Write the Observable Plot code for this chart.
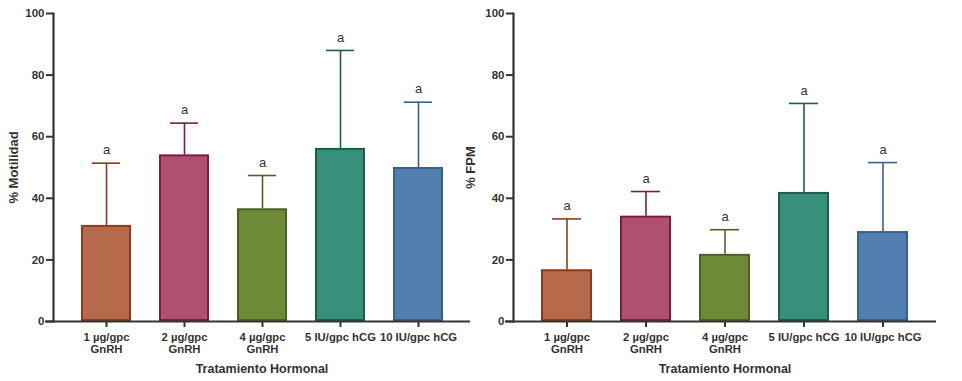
<!DOCTYPE html>
<html>
<head>
<meta charset="utf-8">
<script src="https://cdn.jsdelivr.net/npm/d3@7"></script>
<script src="https://cdn.jsdelivr.net/npm/@observablehq/plot@0.6"></script>
<style>
  html, body { margin: 0; padding: 0; background: #fff; }
  #wrap { position: relative; width: 962px; height: 381px; overflow: hidden; }
  #wrap > div { position: absolute; top: 0; }
  svg { font-family: "Liberation Sans", Arial, sans-serif; }
</style>
</head>
<body>
<div id="wrap"><div id="left"></div><div id="right"></div></div>
<script>
const categories = ["1 µg/gpc\nGnRH", "2 µg/gpc\nGnRH", "4 µg/gpc\nGnRH", "5 IU/gpc hCG", "10 IU/gpc hCG"];
const motilidadMean = [31.2, 54.1, 36.6, 56.2, 50.0];
const motilidadUpper = [51.4, 64.4, 47.4, 88.0, 71.2];
const fpmMean = [16.8, 34.2, 21.8, 41.9, 29.2];
const fpmUpper = [33.3, 42.2, 29.8, 70.8, 51.6];
const letters = ["a", "a", "a", "a", "a"];
const fillColors = ["#b56a4b", "#b0506f", "#6f8a36", "#379079", "#527fb0"];
const strokeColors = ["#8e3b1c", "#7a1c44", "#4c6225", "#1d5e4a", "#38608d"];
const yTicks = [0, 20, 40, 60, 80, 100];

function makeChart(means, uppers, yLabel, opts) {
  const data = categories.map((c, i) => ({cat: c, mean: means[i], upper: uppers[i], letter: letters[i]}));
  return Plot.plot({
    width: opts.width,
    height: 381,
    marginLeft: opts.marginLeft,
    marginRight: opts.marginRight,
    marginTop: 13,
    marginBottom: 60,
    style: {background: "transparent", fontFamily: "'Liberation Sans', Arial, sans-serif", overflow: "visible"},
    x: {domain: categories, paddingInner: 0.36, paddingOuter: 0.345, label: null},
    y: {domain: [0, 100], label: null},
    color: {domain: categories, range: fillColors},
    marks: [
      Plot.ruleX(data, {x: "cat", y1: "mean", y2: "upper", stroke: (d, i) => strokeColors[i], strokeWidth: 1.6}),
      Plot.tickY(data, {x: "cat", y: "upper", stroke: (d, i) => strokeColors[i], strokeWidth: 1.6, inset: 11}),
      Plot.barY(data, {x: "cat", y: "mean", fill: "cat", stroke: (d, i) => strokeColors[i], strokeWidth: 2, inset: 1}),
      Plot.text(data, {x: "cat", y: "upper", text: "letter", dy: -13, fontSize: 13, fill: "#333"}),
      Plot.axisY({ticks: yTicks, tickSize: 7, tickPadding: 2, stroke: "#333", strokeWidth: 2, fontSize: 11.5, fontWeight: "bold", fill: "#333", label: null}),
      Plot.frame({anchor: "left", stroke: "#333", strokeWidth: 2.2}),
      Plot.axisX({tickSize: 6, tickPadding: 5, stroke: "#333", strokeWidth: 2, fontSize: 11.3, fontWeight: "bold", fill: "#333", lineHeight: 1.05, label: null}),
      Plot.ruleY([0], {stroke: "#333", strokeWidth: 2.2, insetLeft: -8}),
      Plot.text([yLabel], {frameAnchor: "left", textAnchor: "middle", dx: -opts.yLabelOffset, rotate: -90, fontSize: 13, fontWeight: "bold", fill: "#333"}),
      Plot.text(["Tratamiento Hormonal"], {frameAnchor: "bottom", lineAnchor: "middle", dy: 47, fontSize: 12.5, fontWeight: "bold", fill: "#333"})
    ]
  });
}

const left = makeChart(motilidadMean, motilidadUpper, "% Motilidad", {width: 480, marginLeft: 53, marginRight: 10, yLabelOffset: 40});
const right = makeChart(fpmMean, fpmUpper, "% FPM", {width: 522, marginLeft: 73, marginRight: 26, yLabelOffset: 43});
const ld = document.getElementById("left");
const rd = document.getElementById("right");
ld.style.left = "0px";
rd.style.left = "440px";
ld.appendChild(left);
rd.appendChild(right);
</script>
</body>
</html>
